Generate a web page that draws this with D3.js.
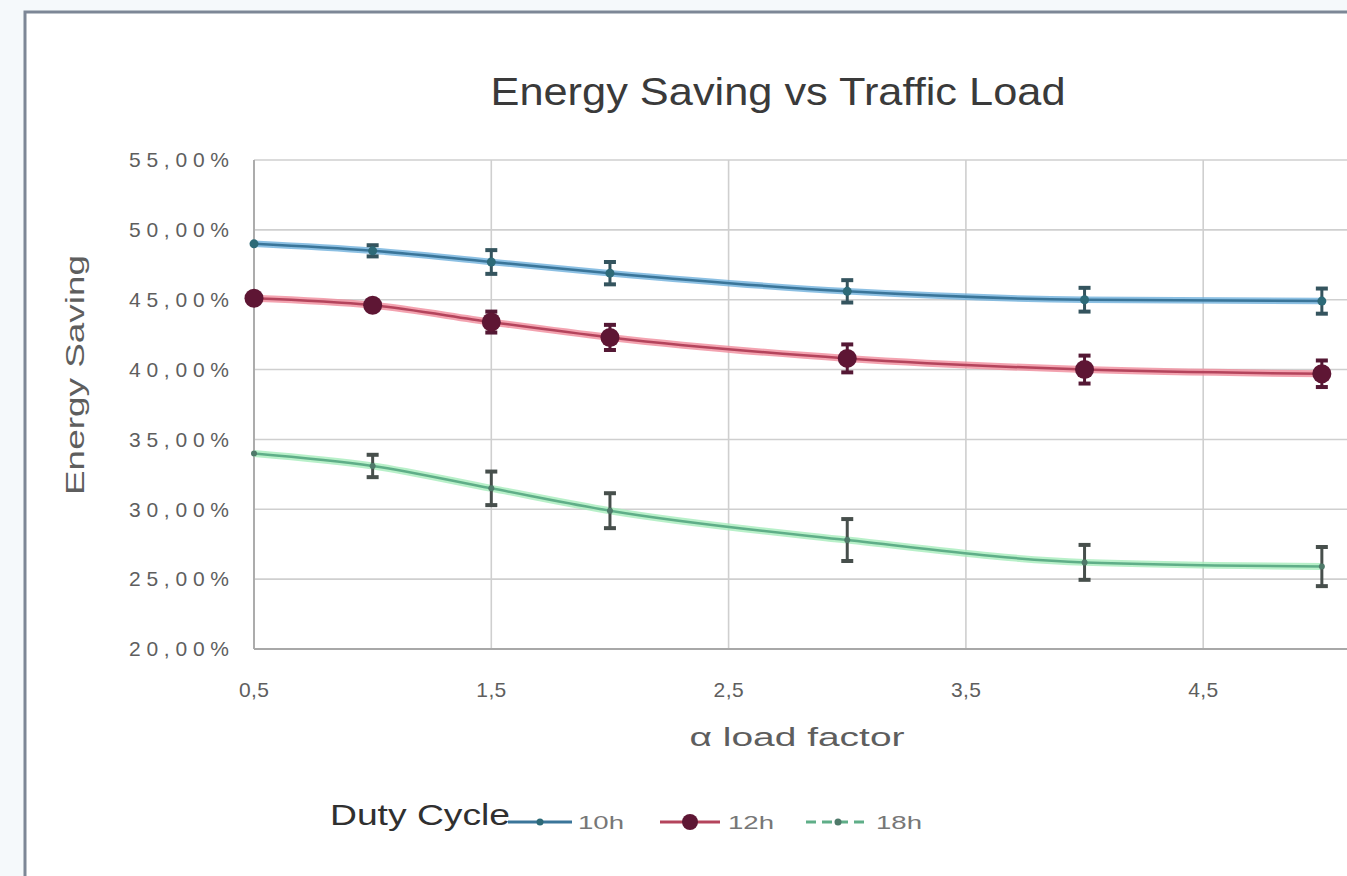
<!DOCTYPE html>
<html><head><meta charset="utf-8">
<script src="https://cdn.jsdelivr.net/npm/d3@7"></script>
<style>
html,body{margin:0;padding:0;background:#f5f9fb;overflow:hidden;}
svg{display:block;font-family:"Liberation Sans",Arial,sans-serif;}
</style></head>
<body>
<svg id="chart" width="1347" height="876"></svg>
<script>
const loadFactor = [0.5, 1, 1.5, 2, 3, 4, 5];
const seriesNames = ["10h", "12h", "18h"];
const saving10h = [49.0, 48.5, 47.7, 46.9, 45.6, 45.0, 44.9];
const saving12h = [45.1, 44.6, 43.4, 42.3, 40.8, 40.0, 39.7];
const saving18h = [34.0, 33.1, 31.5, 29.9, 27.8, 26.2, 25.9];
const err10h = [0.0, 0.4, 0.85, 0.8, 0.8, 0.85, 0.9];
const err12h = [0.0, 0.0, 0.75, 0.9, 1.0, 1.0, 0.95];
const err18h = [0.0, 0.8, 1.2, 1.25, 1.5, 1.25, 1.4];
const xGrid = [0.5, 1.5, 2.5, 3.5, 4.5, 5.5];
const xLabels = [0.5, 1.5, 2.5, 3.5, 4.5];
const yTicks = [20, 25, 30, 35, 40, 45, 50, 55];
const titleText = "Energy Saving vs Traffic Load";
const xTitle = "α load factor";
const yTitle = "Energy Saving";
const legendTitle = "Duty Cycle";

const svg = d3.select("#chart");
svg.append("rect").attr("x",25).attr("y",12).attr("width",1400).attr("height",880)
  .attr("fill","#ffffff").attr("stroke","#7d8796").attr("stroke-width",3);

const x = d3.scaleLinear().domain([0.5, 5.5]).range([254, 254 + 5*237.3]);
const y = d3.scaleLinear().domain([20, 55]).range([649, 160]);

const g = svg.append("g");
g.selectAll("line.hg").data(yTicks).join("line").attr("class","hg")
  .attr("x1", x(0.5)).attr("x2", x(5.5)).attr("y1", d=>y(d)).attr("y2", d=>y(d))
  .attr("stroke","#cfcfcf").attr("stroke-width",1.6);
g.selectAll("line.vg").data(xGrid).join("line").attr("class","vg")
  .attr("y1", y(20)).attr("y2", y(55)).attr("x1", d=>x(d)).attr("x2", d=>x(d))
  .attr("stroke","#cfcfcf").attr("stroke-width",1.6);
g.append("line").attr("x1",x(0.5)).attr("x2",x(0.5)).attr("y1",y(20)).attr("y2",y(55)).attr("stroke","#a8a8a8").attr("stroke-width",1.8);
g.append("line").attr("x1",x(0.5)).attr("x2",x(5.5)).attr("y1",y(20)).attr("y2",y(20)).attr("stroke","#a8a8a8").attr("stroke-width",1.8);

const fmtY = d => d3.format(".2f")(d).replace(".", ",") + "%";
svg.append("g").selectAll("text").data(yTicks).join("text")
  .attr("x", 229).attr("y", d=>y(d)).attr("dy","0.35em")
  .attr("text-anchor","end").attr("font-size",21).attr("fill","#5e5e5e")
  .attr("textLength",100).attr("lengthAdjust","spacing")
  .text(fmtY);
const fmtX = d => String(d).replace(".", ",");
svg.append("g").selectAll("text").data(xLabels).join("text")
  .attr("x", d=>x(d)).attr("y", 690).attr("dy","0.35em")
  .attr("text-anchor","middle").attr("font-size",21).attr("fill","#5e5e5e")
  .attr("textLength",30).attr("lengthAdjust","spacing")
  .text(fmtX);

svg.append("text").attr("x",778).attr("y",105).attr("text-anchor","middle")
  .attr("font-size",39).attr("fill","#3a3a3a").attr("textLength",575).attr("lengthAdjust","spacingAndGlyphs")
  .text(titleText);
svg.append("text").attr("x",797).attr("y",737).attr("dy","0.35em").attr("text-anchor","middle")
  .attr("font-size",26).attr("fill","#5e5e5e").attr("textLength",215).attr("lengthAdjust","spacingAndGlyphs")
  .text(xTitle);
svg.append("text").attr("transform","translate(84,375) rotate(-90)").attr("text-anchor","middle")
  .attr("font-size",26).attr("fill","#5e5e5e").attr("textLength",240).attr("lengthAdjust","spacingAndGlyphs")
  .text(yTitle);

const series = [
  {name: seriesNames[0], vals: saving10h, err: err10h, light:"#6fb0dc", dark:"#3a7599", mk:"#2d6a78", r:4.5, errc:"#34545e", w:6.5},
  {name: seriesNames[1], vals: saving12h, err: err12h, light:"#f08c9c", dark:"#b4445c", mk:"#5e1634", r:9.5, errc:"#541834", w:7},
  {name: seriesNames[2], vals: saving18h, err: err18h, light:"#a6ecbb", dark:"#5fae88", mk:"#4f7a6a", r:3, errc:"#474f4c", w:7}
];
const line = d3.line().x((d,i)=>x(loadFactor[i])).y(d=>y(d)).curve(d3.curveMonotoneX);
series.forEach(s => {
  const sg = svg.append("g");
  sg.append("path").attr("d", line(s.vals)).attr("fill","none").attr("stroke",s.light).attr("stroke-width",s.w).attr("stroke-opacity",0.8);
  sg.append("path").attr("d", line(s.vals)).attr("fill","none").attr("stroke",s.dark).attr("stroke-width",2.5);
  const pts = loadFactor.map((lf,i)=>({lf, v:s.vals[i], e:s.err[i]}));
  const eb = pts.filter(p=>p.e>0);
  sg.selectAll("line.ev").data(eb).join("line").attr("class","ev")
    .attr("x1",p=>x(p.lf)).attr("x2",p=>x(p.lf)).attr("y1",p=>y(p.v+p.e)).attr("y2",p=>y(p.v-p.e))
    .attr("stroke",s.errc).attr("stroke-width",3);
  [["capHi",1],["capLo",-1]].forEach(([cls,sign]) => {
    sg.selectAll("line."+cls).data(eb).join("line").attr("class",cls)
      .attr("x1",p=>x(p.lf)-6).attr("x2",p=>x(p.lf)+6)
      .attr("y1",p=>y(p.v+sign*p.e)).attr("y2",p=>y(p.v+sign*p.e))
      .attr("stroke",s.errc).attr("stroke-width",4);
  });
  sg.selectAll("circle").data(pts).join("circle")
    .attr("cx",p=>x(p.lf)).attr("cy",p=>y(p.v)).attr("r",s.r).attr("fill",s.mk);
});

const lg = svg.append("g");
lg.append("text").attr("x",330).attr("y",815).attr("dy","0.35em").attr("font-size",29)
  .attr("fill","#303030").attr("textLength",180).attr("lengthAdjust","spacingAndGlyphs")
  .text(legendTitle);
const legPos = [{x0:508,x1:572,tx:578},{x0:660,x1:720,tx:728},{x0:806,x1:870,tx:876}];
series.forEach((s,i) => {
  const p = legPos[i], ly = 822;
  lg.append("line").attr("x1",p.x0).attr("x2",p.x1).attr("y1",ly).attr("y2",ly)
    .attr("stroke", s.dark).attr("stroke-width",3)
    .attr("stroke-dasharray", i===2 ? "10,6" : null);
  lg.append("circle").attr("cx",(p.x0+p.x1)/2).attr("cy",ly).attr("r", i===1?8:3.5).attr("fill",s.mk);
  lg.append("text").attr("x",p.tx).attr("y",ly).attr("dy","0.35em").attr("font-size",19)
    .attr("fill","#777").attr("textLength",46).attr("lengthAdjust","spacingAndGlyphs").text(s.name);
});
</script>
</body></html>
